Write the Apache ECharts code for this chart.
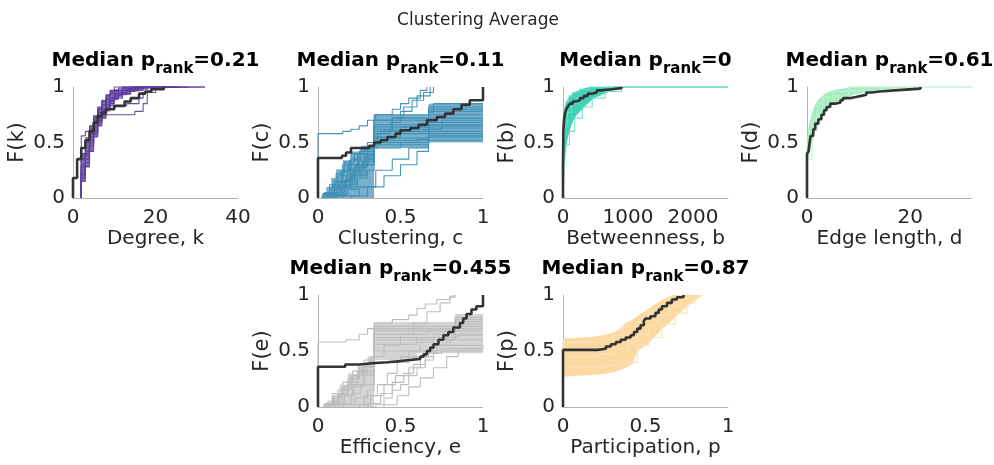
<!DOCTYPE html>
<html><head><meta charset="utf-8">
<script src="https://cdn.jsdelivr.net/npm/echarts@6/dist/echarts.min.js"></script>
<style>html,body{margin:0;padding:0;background:#fff}#c{width:994px;height:465px}</style>
</head><body><div id="c"></div>
<script>
// ---------------- DATA ----------------
const mainTitle = 'Clustering Average';
const panelPrank = ['0.21', '0.11', '0', '0.61', '0.455', '0.87'];
const xNames = ['Degree, k', 'Clustering, c', 'Betweenness, b', 'Edge length, d', 'Efficiency, e', 'Participation, p'];
const yNames = ['F(k)', 'F(c)', 'F(b)', 'F(d)', 'F(e)', 'F(p)'];
const xMax = [40, 1, 2540, 32, 1, 1];
const xStep = [20, 0.5, 1000, 20, 0.5, 0.5];

// observed CDFs (flat x,F pairs)
const degreeObs = [0,0, 0,0.18, 1,0.35, 2,0.45, 3,0.52, 4,0.6, 5,0.68, 6,0.74, 7,0.77, 8,0.8, 10,0.83, 12.5,0.87, 14,0.9, 16,0.94, 17.5,0.96, 19,0.98, 22,1];
const clusteringObs = [0,0, 0,0.36, 0.145,0.38, 0.17,0.41, 0.2,0.45, 0.31,0.47, 0.34,0.5, 0.38,0.52, 0.42,0.55, 0.47,0.58, 0.5,0.61, 0.56,0.63, 0.61,0.66, 0.66,0.7, 0.72,0.73, 0.77,0.76, 0.82,0.8, 0.87,0.84, 0.92,0.88, 1,1];
const betweennessObs = [0,0, 0,0.3, 5,0.6, 15,0.7, 30,0.76, 50,0.8, 80,0.83, 110,0.85, 150,0.87, 200,0.88, 260,0.9, 320,0.92, 380,0.94, 440,0.95, 520,0.97, 600,0.98, 750,0.99, 900,1];
const edgeObs = [0,0, 0,0.4, 0.3,0.42, 0.5,0.5, 0.7,0.56, 1.2,0.62, 1.6,0.67, 2.2,0.71, 2.8,0.75, 3.3,0.79, 3.8,0.82, 4.5,0.85, 5.5,0.86, 6.5,0.88, 7,0.9, 8.5,0.91, 9.5,0.92, 10.5,0.93, 11.5,0.95, 12.5,0.96, 14,0.97, 17,0.985, 22,1];
const efficiencyObs = [0,0, 0,0.36, 0.165,0.38, 0.25,0.39, 0.33,0.4, 0.42,0.41, 0.5,0.42, 0.56,0.43, 0.62,0.45, 0.64,0.47, 0.66,0.5, 0.68,0.53, 0.7,0.56, 0.73,0.6, 0.76,0.64, 0.79,0.67, 0.82,0.71, 0.86,0.75, 0.88,0.79, 0.9,0.83, 0.93,0.87, 0.96,0.9, 1,1];
const participationObs = [0,0, 0,0.51, 0.21,0.52, 0.26,0.54, 0.29,0.56, 0.32,0.58, 0.35,0.6, 0.38,0.62, 0.41,0.64, 0.43,0.67, 0.45,0.7, 0.47,0.73, 0.49,0.77, 0.5,0.79, 0.53,0.81, 0.56,0.84, 0.58,0.87, 0.6,0.9, 0.63,0.93, 0.66,0.96, 0.69,0.98, 0.73,1];

// null-model CDF envelopes (upper / lower)
const degreeBandUpper = [2,0.4, 3,0.55, 4,0.65, 5,0.74, 6,0.82, 7,0.88, 8,0.93, 9,0.96, 10,0.98, 12,1, 17,1];
const degreeBandLower = [2,0.15, 3,0.28, 4,0.42, 5,0.55, 6,0.65, 7,0.72, 8,0.78, 9,0.84, 10,0.88, 11,0.91, 12,0.93, 14,0.96, 16,0.98, 17,1];
const clusteringBandUpper = [0.02,0.02, 0.05,0.1, 0.08,0.18, 0.11,0.26, 0.15,0.34, 0.2,0.42, 0.26,0.47, 0.34,0.75, 0.67,0.85, 1,0.85];
const clusteringBandLower = [0.02,0, 0.34,0.45, 0.67,0.5, 1,0.5];
const betweennessBandUpper = [0,0, 1,0.3, 3,0.55, 5,0.63, 8,0.7, 12,0.75, 20,0.8, 30,0.83, 40,0.85, 50,0.865, 65,0.88, 85,0.9, 110,0.92, 135,0.935, 160,0.95, 200,0.96, 250,0.97, 290,0.98, 330,0.99, 420,1, 2540,1];
const betweennessBandLower = [0,0, 5,0.08, 10,0.15, 15,0.22, 20,0.3, 30,0.37, 40,0.42, 50,0.46, 60,0.5, 75,0.54, 90,0.58, 105,0.61, 120,0.64, 140,0.67, 160,0.7, 180,0.72, 200,0.74, 230,0.76, 260,0.78, 295,0.8, 330,0.82, 365,0.84, 400,0.86, 440,0.88, 480,0.9, 540,0.915, 600,0.93, 660,0.945, 720,0.96, 790,0.97, 850,0.98, 920,0.99, 980,1, 2540,1];
const edgeBandUpper = [0,0.52, 0.15,0.58, 0.3,0.63, 0.5,0.68, 0.7,0.72, 0.95,0.76, 1.2,0.8, 1.5,0.83, 1.8,0.86, 2.1,0.88, 2.5,0.9, 3,0.92, 3.5,0.94, 4,0.95, 4.5,0.96, 5.2,0.97, 6,0.98, 7.5,0.99, 9,1, 32,1];
const edgeBandLower = [0,0.3, 0.25,0.35, 0.5,0.4, 0.75,0.45, 1,0.5, 1.25,0.55, 1.5,0.6, 1.75,0.63, 2,0.66, 2.5,0.7, 3,0.74, 3.5,0.77, 4,0.8, 4.5,0.82, 5,0.84, 5.5,0.855, 6,0.87, 7,0.89, 8,0.91, 9,0.93, 10,0.94, 11,0.95, 12,0.96, 13,0.97, 15,0.98, 18,0.99, 20,1, 32,1];
const efficiencyBandUpper = [0.03,0.02, 0.08,0.1, 0.13,0.2, 0.18,0.3, 0.24,0.38, 0.3,0.45, 0.34,0.76, 0.83,0.83, 1,0.83];
const efficiencyBandLower = [0.03,0, 0.34,0.42, 0.6,0.48, 1,0.5];
const participationBandUpper = [0,0.61, 0.2,0.63, 0.24,0.64, 0.28,0.655, 0.31,0.67, 0.34,0.69, 0.36,0.72, 0.38,0.75, 0.41,0.77, 0.44,0.8, 0.47,0.83, 0.5,0.86, 0.52,0.88, 0.54,0.9, 0.56,0.92, 0.58,0.94, 0.6,0.955, 0.62,0.97, 0.64,0.985, 0.66,1, 0.85,1];
const participationBandLower = [0,0.27, 0.22,0.29, 0.27,0.3, 0.3,0.31, 0.33,0.32, 0.36,0.34, 0.39,0.36, 0.42,0.38, 0.45,0.5, 0.48,0.53, 0.5,0.55, 0.53,0.59, 0.55,0.62, 0.58,0.66, 0.6,0.7, 0.63,0.73, 0.65,0.76, 0.68,0.8, 0.7,0.83, 0.73,0.87, 0.75,0.9, 0.78,0.93, 0.8,0.95, 0.83,0.98, 0.85,1];

// individual null-model CDFs
const degreeRuns = [
 [2,0.2, 3,0.35, 4,0.5, 5,0.62, 6,0.7, 7,0.78, 8,0.84, 9,0.88, 10,0.92, 11,0.95, 13,0.98, 15,1, 22,1],
 [2,0.3, 3,0.45, 4,0.58, 5,0.68, 6,0.77, 7,0.84, 8,0.9, 9,0.94, 10,0.97, 12,1, 20,1],
 [2,0.15, 3,0.28, 4,0.42, 5,0.55, 6,0.65, 7,0.72, 8,0.8, 9,0.85, 10,0.9, 12,0.94, 14,0.97, 17,1, 25,1],
 [2,0.25, 3,0.4, 4,0.55, 5,0.66, 6,0.72, 7,0.75, 15,0.78, 17,0.85, 18,0.95, 19,1],
 [2,0.35, 3,0.5, 4,0.6, 5,0.7, 6,0.8, 7,0.87, 8,0.92, 9,0.96, 11,0.99, 13,1, 32,1],
 [2,0.22, 3,0.38, 4,0.5, 5,0.6, 6,0.7, 7,0.76, 8,0.8, 9,0.83, 13,0.85, 16,0.9, 17,0.95, 20,1, 24,1],
 [2,0.56, 3,0.6, 4,0.65, 5,0.72, 6,0.8, 8,0.88, 10,0.93, 12,0.97, 14,1, 32,1],
 [2,0.4, 3,0.52, 4,0.62, 5,0.74, 6,0.82, 7,0.88, 8,0.93, 9,0.97, 10,1, 28,1],
 [2,0.18, 3,0.32, 4,0.47, 5,0.58, 6,0.68, 7,0.75, 8,0.82, 9,0.87, 10,0.9, 11,0.93, 13,0.96, 15,0.98, 18,1],
 [2,0.28, 3,0.42, 4,0.52, 5,0.64, 6,0.72, 7,0.8, 8,0.86, 9,0.9, 10,0.94, 12,0.97, 14,0.99, 16,1, 26,1]
];
const clusteringRuns = [
 [0.05,0.02, 0.1,0.08, 0.15,0.15, 0.2,0.25, 0.25,0.33, 0.3,0.4, 0.34,0.62, 0.5,0.64, 0.67,0.75, 1,0.75],
 [0.03,0.03, 0.08,0.1, 0.12,0.2, 0.18,0.3, 0.24,0.4, 0.34,0.7, 0.45,0.72, 0.67,0.8, 1,0.8],
 [0.08,0.02, 0.14,0.1, 0.2,0.2, 0.26,0.28, 0.3,0.35, 0.34,0.55, 0.5,0.58, 0.67,0.68, 1,0.68],
 [0.1,0.03, 0.16,0.12, 0.22,0.22, 0.28,0.3, 0.34,0.5, 0.6,0.53, 0.67,0.6, 1,0.6],
 [0.05,0.05, 0.1,0.15, 0.15,0.25, 0.2,0.35, 0.25,0.42, 0.34,0.75, 0.67,0.77, 0.7,0.85, 1,0.85],
 [0.12,0.02, 0.18,0.08, 0.24,0.18, 0.3,0.25, 0.34,0.45, 0.5,0.48, 0.67,0.52, 1,0.52],
 [0.04,0.05, 0.1,0.15, 0.15,0.3, 0.2,0.4, 0.3,0.5, 0.38,0.6, 0.45,0.72, 0.52,0.82, 0.6,0.92, 0.68,1],
 [0.08,0.05, 0.14,0.15, 0.2,0.3, 0.28,0.45, 0.36,0.58, 0.44,0.68, 0.5,0.78, 0.57,0.88, 0.64,0.95, 0.7,1],
 [0,0.58, 0.15,0.6, 0.2,0.62, 0.25,0.65, 0.3,0.7, 0.35,0.75, 0.45,0.8, 0.5,0.85, 0.55,0.9, 0.62,0.97, 0.66,1],
 [0.2,0.02, 0.3,0.1, 0.4,0.2, 0.5,0.3, 0.6,0.42, 0.67,0.55, 1,0.55],
 [0.15,0.02, 0.25,0.1, 0.35,0.25, 0.45,0.35, 0.55,0.45, 0.67,0.65, 1,0.65],
 [0.06,0.04, 0.12,0.14, 0.18,0.26, 0.24,0.36, 0.3,0.45, 0.34,0.66, 0.67,0.72, 1,0.72],
 [0.1,0.05, 0.16,0.16, 0.22,0.28, 0.28,0.36, 0.34,0.58, 0.4,0.6, 0.67,0.62, 0.75,0.7, 1,0.7],
 [0.07,0.03, 0.13,0.12, 0.19,0.22, 0.25,0.3, 0.31,0.38, 0.34,0.52, 0.67,0.56, 1,0.56],
 [0.03,0.04, 0.07,0.12, 0.11,0.22, 0.16,0.32, 0.22,0.4, 0.34,0.64, 0.67,0.66, 1,0.66],
 [0.09,0.03, 0.15,0.12, 0.21,0.24, 0.27,0.33, 0.34,0.6, 0.55,0.62, 0.67,0.78, 1,0.78],
 [0.06,0.02, 0.11,0.1, 0.17,0.2, 0.23,0.3, 0.29,0.38, 0.34,0.48, 0.5,0.5, 0.67,0.58, 1,0.58],
 [0.04,0.03, 0.09,0.12, 0.14,0.24, 0.19,0.34, 0.26,0.44, 0.34,0.7, 0.67,0.82, 1,0.82],
 [0.11,0.02, 0.17,0.1, 0.23,0.2, 0.29,0.3, 0.34,0.54, 0.67,0.63, 1,0.63]
];
const betweennessRuns = [
 [2,0.4, 5,0.6, 10,0.7, 25,0.8, 50,0.87, 90,0.92, 150,0.95, 250,0.98, 400,1, 2540,1],
 [5,0.1, 20,0.3, 50,0.48, 100,0.6, 180,0.72, 300,0.82, 450,0.9, 650,0.96, 900,1, 2540,1],
 [3,0.3, 10,0.5, 30,0.65, 70,0.77, 130,0.85, 220,0.91, 350,0.95, 550,0.98, 700,1, 2540,1]
];
const edgeRuns = [
 [0,0.35, 1,0.6, 2,0.75, 3,0.84, 5,0.92, 8,0.97, 12,1, 32,1],
 [0,0.48, 0.5,0.6, 1,0.72, 2,0.85, 3,0.91, 5,0.96, 8,1, 32,1]
];
const efficiencyRuns = [
 [0.05,0.03, 0.1,0.1, 0.15,0.18, 0.2,0.26, 0.25,0.33, 0.3,0.4, 0.34,0.6, 0.6,0.62, 0.83,0.7, 1,0.7],
 [0.08,0.04, 0.13,0.12, 0.18,0.22, 0.24,0.32, 0.34,0.72, 0.83,0.8, 1,0.8],
 [0.1,0.02, 0.16,0.1, 0.22,0.18, 0.28,0.28, 0.34,0.5, 0.7,0.55, 1,0.55],
 [0,0.58, 0.17,0.6, 0.25,0.65, 0.3,0.7, 0.34,0.75, 0.45,0.78, 0.55,0.82, 0.6,0.88, 0.65,0.92, 0.72,0.96, 0.8,0.99, 0.83,1],
 [0.35,0.02, 0.4,0.08, 0.45,0.15, 0.5,0.2, 0.55,0.28, 0.6,0.35, 0.65,0.42, 0.7,0.48, 0.75,0.52, 1,0.52],
 [0.3,0.03, 0.38,0.12, 0.45,0.22, 0.52,0.3, 0.58,0.38, 0.65,0.48, 0.72,0.55, 0.8,0.6, 1,0.6],
 [0.2,0.02, 0.28,0.1, 0.36,0.2, 0.42,0.3, 0.48,0.4, 0.55,0.5, 0.62,0.58, 0.7,0.65, 0.83,0.68, 1,0.68],
 [0.06,0.05, 0.12,0.15, 0.18,0.25, 0.25,0.35, 0.32,0.45, 0.4,0.55, 0.5,0.65, 0.58,0.75, 0.66,0.85, 0.74,0.93, 0.8,0.98, 0.83,1],
 [0.12,0.03, 0.2,0.12, 0.26,0.2, 0.34,0.65, 0.67,0.7, 0.83,0.76, 1,0.76],
 [0.15,0.02, 0.22,0.08, 0.3,0.15, 0.34,0.4, 0.5,0.45, 0.67,0.5, 1,0.5],
 [0.25,0.02, 0.32,0.1, 0.4,0.2, 0.47,0.28, 0.55,0.35, 0.62,0.45, 0.7,0.55, 0.78,0.62, 0.85,0.65, 1,0.65],
 [0.04,0.02, 0.09,0.08, 0.14,0.16, 0.2,0.28, 0.27,0.36, 0.34,0.68, 0.83,0.74, 1,0.74],
 [0.04,0.03, 0.09,0.12, 0.15,0.22, 0.21,0.32, 0.28,0.42, 0.34,0.7, 0.83,0.78, 1,0.78],
 [0.09,0.02, 0.15,0.1, 0.21,0.2, 0.28,0.3, 0.34,0.56, 0.6,0.6, 0.83,0.64, 1,0.64],
 [0.07,0.03, 0.12,0.11, 0.18,0.2, 0.24,0.3, 0.3,0.38, 0.34,0.62, 0.83,0.72, 1,0.72],
 [0.4,0.02, 0.48,0.1, 0.55,0.18, 0.62,0.26, 0.7,0.35, 0.78,0.45, 0.85,0.52, 1,0.55]
];
const participationRuns = [
 [0,0.58, 0.25,0.6, 0.3,0.64, 0.36,0.72, 0.45,0.76, 0.48,0.8, 0.52,0.86, 0.57,0.92, 0.62,0.97, 0.68,1],
 [0,0.35, 0.25,0.37, 0.35,0.4, 0.45,0.55, 0.52,0.62, 0.6,0.74, 0.68,0.84, 0.75,0.93, 0.8,0.98, 0.83,1],
 [0,0.45, 0.22,0.47, 0.32,0.52, 0.4,0.58, 0.45,0.65, 0.52,0.73, 0.58,0.82, 0.65,0.9, 0.72,0.97, 0.76,1]
];

// ---------------- LAYOUT / STYLE ----------------
const FONT = 'DejaVu Sans';
const layout = [
 {left: 73, top: 87, width: 165, height: 111},
 {left: 318, top: 87, width: 165, height: 111},
 {left: 563, top: 87, width: 165, height: 111},
 {left: 807, top: 87, width: 165, height: 111},
 {left: 318, top: 295, width: 165, height: 112},
 {left: 563, top: 295, width: 165, height: 112}
];
const panels = [
 {obs: degreeObs, runs: degreeRuns, up: degreeBandUpper, lo: degreeBandLower, stepBand: true, band: '#5b3c9c', bandOp: 0.75, run: '#5b3c9c', runOp: 0.9},
 {obs: clusteringObs, runs: clusteringRuns, up: clusteringBandUpper, lo: clusteringBandLower, stepBand: true, band: '#4a94bb', bandOp: 0.75, run: '#3f8fb5', runOp: 0.95},
 {obs: betweennessObs, runs: betweennessRuns, up: betweennessBandUpper, lo: betweennessBandLower, stepBand: false, band: '#40d1b6', bandOp: 1, run: '#6fdcc8', runOp: 0.9},
 {obs: edgeObs, runs: edgeRuns, up: edgeBandUpper, lo: edgeBandLower, stepBand: false, band: '#a6edc0', bandOp: 1, run: '#bff3d2', runOp: 0.9},
 {obs: efficiencyObs, runs: efficiencyRuns, up: efficiencyBandUpper, lo: efficiencyBandLower, stepBand: true, band: '#c6c6c6', bandOp: 0.75, run: '#bdbdbd', runOp: 1},
 {obs: participationObs, runs: participationRuns, up: participationBandUpper, lo: participationBandLower, stepBand: false, band: '#fdd9a2', bandOp: 1, run: '#fbe3bd', runOp: 1}
];

function pairs(flat, fromZero) {
  const d = [];
  if (fromZero) d.push([flat[0], 0]);
  for (let i = 0; i < flat.length; i += 2) d.push([flat[i], flat[i + 1]]);
  return d;
}
function stepPts(flat) {
  const p = [];
  for (let i = 0; i < flat.length; i += 2) {
    if (i > 0) p.push([flat[i], flat[i - 1]]);
    p.push([flat[i], flat[i + 1]]);
  }
  return p;
}
const measureCtx = document.createElement('canvas').getContext('2d');
function textW(str, font) { measureCtx.font = font; return measureCtx.measureText(str).width; }

const grids = [], xAxes = [], yAxes = [], series = [], graphics = [];
const MAIN_FONT = 'bold 20px "DejaVu Sans"', SUB_FONT = 'bold 15px "DejaVu Sans"';
layout.forEach((g, i) => {
  grids.push(Object.assign({outerBoundsMode: 'none', containLabel: false}, g));
  xAxes.push({
    type: 'value', gridIndex: i, min: 0, max: xMax[i], interval: xStep[i],
    name: xNames[i], nameLocation: 'middle', nameGap: 27,
    nameTextStyle: {fontFamily: FONT, fontSize: 20, color: '#262626'},
    axisLine: {show: true, lineStyle: {color: '#b3b3b3', width: 1}},
    axisTick: {show: false}, splitLine: {show: false},
    axisLabel: {fontFamily: FONT, fontSize: 20, color: '#262626', margin: 10,
      showMaxLabel: (xMax[i] % xStep[i] === 0), formatter: v => String(v)}
  });
  yAxes.push({
    type: 'value', gridIndex: i, min: 0, max: 1, interval: 0.5,
    name: yNames[i], nameLocation: 'middle', nameGap: 45,
    nameTextStyle: {fontFamily: FONT, fontSize: 21, color: '#262626'},
    axisLine: {show: true, lineStyle: {color: '#b3b3b3', width: 1}},
    axisTick: {show: false}, splitLine: {show: false},
    axisLabel: {fontFamily: FONT, fontSize: 20, color: '#262626', margin: 8, formatter: v => String(v)}
  });
  const P = panels[i];
  const upPts = P.stepBand ? stepPts(P.up) : pairs(P.up, false);
  const loPts = P.stepBand ? stepPts(P.lo) : pairs(P.lo, false);
  const poly = upPts.concat(loPts.reverse());
  series.push({
    type: 'custom', xAxisIndex: i, yAxisIndex: i, data: [[P.up[0], P.up[1]]], silent: true, z: 1,
    renderItem: (params, api) => ({
      type: 'polygon', shape: {points: poly.map(p => api.coord(p))},
      style: {fill: P.band, opacity: P.bandOp}
    })
  });
  P.runs.forEach(r => series.push({
    type: 'line', step: 'end', xAxisIndex: i, yAxisIndex: i, data: pairs(r, true),
    symbol: 'none', silent: true, clip: false, z: 2,
    lineStyle: {color: P.run, width: 1.1, opacity: P.runOp}
  }));
  series.push({
    type: 'line', step: 'end', xAxisIndex: i, yAxisIndex: i, data: pairs(P.obs, false),
    symbol: 'none', silent: true, clip: false, z: 5,
    lineStyle: {color: '#333333', width: 2.6}
  });
  // subplot title: "Median p" + subscript "rank" + "=value"
  const t1 = 'Median p', t2 = 'rank', t3 = '=' + panelPrank[i];
  const w1 = textW(t1, MAIN_FONT), w2 = textW(t2, SUB_FONT), w3 = textW(t3, MAIN_FONT);
  const x0 = g.left + g.width / 2 - (w1 + w2 + w3) / 2;
  const ym = g.top - 26;
  const base = {fontFamily: FONT, fontWeight: 'bold', fill: '#000', align: 'left', verticalAlign: 'middle'};
  graphics.push({type: 'text', x: x0, y: ym, silent: true, style: Object.assign({text: t1, fontSize: 20}, base)});
  graphics.push({type: 'text', x: x0 + w1, y: ym + 8, silent: true, style: Object.assign({text: t2, fontSize: 15}, base)});
  graphics.push({type: 'text', x: x0 + w1 + w2, y: ym, silent: true, style: Object.assign({text: t3, fontSize: 20}, base)});
});
graphics.push({
  type: 'text', x: 478, y: 21, silent: true,
  style: {text: mainTitle, align: 'center', verticalAlign: 'middle', fontFamily: FONT, fontSize: 17, fill: '#262626'}
});

const chart = echarts.init(document.getElementById('c'), null, {renderer: 'canvas'});
chart.setOption({
  animation: false, backgroundColor: '#fff',
  grid: grids, xAxis: xAxes, yAxis: yAxes, series: series, graphic: graphics
});
</script></body></html>
